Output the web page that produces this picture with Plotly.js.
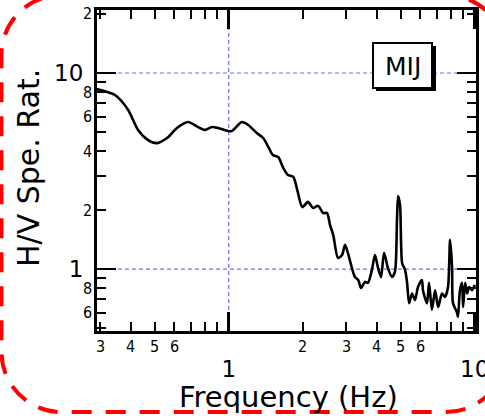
<!DOCTYPE html>
<html>
<head>
<meta charset="utf-8">
<script src="https://cdn.plot.ly/plotly-3.0.1.min.js"></script>
<style>
  html, body { margin: 0; padding: 0; background: #fff; }
  #chart { width: 485px; height: 416px; }
</style>
</head>
<body>
<div id="chart"></div>
<script>
// ---- data ----
const freq = [0.29, 0.345, 0.39, 0.428, 0.47, 0.511, 0.561, 0.616, 0.683, 0.75, 0.801, 0.855, 0.905, 0.994, 1.03, 1.13, 1.20, 1.30, 1.38, 1.45, 1.51, 1.59, 1.66, 1.74, 1.83, 1.90, 1.99, 2.10, 2.20, 2.31, 2.42, 2.51, 2.58, 2.66, 2.78, 2.89, 2.97, 3.05, 3.17, 3.26, 3.36, 3.45, 3.58, 3.68, 3.82, 3.93, 4.04, 4.16, 4.28, 4.44, 4.61, 4.74, 4.83, 4.88, 4.97, 5.07, 5.21, 5.31, 5.41, 5.56, 5.72, 5.88, 6.10, 6.16, 6.40, 6.52, 6.70, 6.90, 7.10, 7.36, 7.57, 7.79, 7.94, 8.09, 8.16, 8.47, 8.55, 8.71, 8.88, 8.97, 9.14, 9.31, 9.49, 9.75, 10.0];
const hvRatio = [8.29, 7.72, 6.48, 5.12, 4.55, 4.39, 4.66, 5.24, 5.62, 5.30, 5.12, 5.30, 5.24, 5.06, 5.06, 5.62, 5.43, 4.94, 4.66, 4.19, 3.82, 3.73, 3.31, 3.02, 2.95, 2.53, 2.07, 2.20, 2.05, 2.10, 1.93, 1.93, 1.68, 1.49, 1.14, 1.18, 1.33, 1.21, 1.01, 0.91, 0.88, 0.80, 0.86, 0.85, 0.99, 1.18, 1.02, 0.91, 1.21, 1.01, 0.91, 0.97, 1.78, 2.36, 2.12, 1.07, 0.99, 0.85, 0.67, 0.75, 0.695, 0.81, 0.88, 0.78, 0.67, 0.85, 0.62, 0.78, 0.64, 0.75, 0.72, 0.81, 1.41, 1.02, 0.67, 0.60, 0.57, 0.78, 0.85, 0.64, 0.85, 0.75, 0.81, 0.78, 0.83];

const stationName = "MIJ";
const xTitle = "Frequency (Hz)";
const yTitle = "H/V Spe. Rat.";

// major (decade) ticks with big labels
const xMajorVals = [1, 10];
const xMajorText = ["1", "10"];
const yMajorVals = [1, 10];
const yMajorText = ["1", "10"];
// minor ticks
const xMinorVals = [0.3, 0.4, 0.5, 0.6, 0.7, 0.8, 0.9, 2, 3, 4, 5, 6, 7, 8, 9];
const yMinorVals = [0.5, 0.6, 0.7, 0.8, 0.9, 2, 3, 4, 5, 6, 7, 8, 9, 20];
// small labels on minor ticks
const xSmallVals = [0.3, 0.4, 0.5, 0.6, 2, 3, 4, 5, 6];
const xSmallText = ["3", "4", "5", "6", "2", "3", "4", "5", "6"];
const ySmallVals = [0.6, 0.8, 2, 4, 6, 8, 20];
const ySmallText = ["6", "8", "2", "4", "6", "8", "2"];
// dotted guide lines
const xGuideVals = [1];
const yGuideVals = [1, 10];

const xRange = [0.2914, 10.12];
const yRange = [0.483, 20.96];

// ---- layout geometry ----
const W = 485, H = 416, ML = 97, MR = 9, MT = 10, MB = 85;
const PW = W - ML - MR, PH = H - MT - MB;
const px = x => (x - ML) / PW;
const py = y => (H - MB - y) / PH;

function roundRectPath(x0, y0, x1, y1, r) {
  const k = 0.5523 * r;
  const P = (x, y) => px(x).toFixed(5) + "," + py(y).toFixed(5);
  return "M" + P(x0 + r, y0) +
    " L" + P(x1 - r, y0) +
    " C" + P(x1 - r + k, y0) + " " + P(x1, y0 + r - k) + " " + P(x1, y0 + r) +
    " L" + P(x1, y1 - r) +
    " C" + P(x1, y1 - r + k) + " " + P(x1 - r + k, y1) + " " + P(x1 - r, y1) +
    " L" + P(x0 + r, y1) +
    " C" + P(x0 + r - k, y1) + " " + P(x0, y1 - r + k) + " " + P(x0, y1 - r) +
    " L" + P(x0, y0 + r) +
    " C" + P(x0, y0 + r - k) + " " + P(x0 + r - k, y0) + " " + P(x0 + r, y0) + " Z";
}

const labelFont = { family: "Liberation Sans Narrow, DejaVu Sans Condensed, sans-serif", size: 16, color: "#000" };
const bigFont = { family: "DejaVu Sans, sans-serif", size: 23, color: "#000" };
const titleFont = { family: "DejaVu Sans, sans-serif", size: 29, color: "#000" };
const gridLine = { color: "#6a6aff", width: 1.2, dash: "4px,3px" };

const annotations = [];
xSmallVals.forEach((v, i) => annotations.push({
  x: Math.log10(v), xref: "x", y: 0, yref: "paper", yanchor: "middle", yshift: -15,
  text: xSmallText[i], showarrow: false, font: labelFont
}));
ySmallVals.forEach((v, i) => annotations.push({
  x: 0, xref: "paper", xanchor: "right", xshift: -3, y: Math.log10(v), yref: "y", yanchor: "middle",
  text: ySmallText[i], showarrow: false, font: labelFont
}));
annotations.push({
  x: px(288), xref: "paper", y: py(397), yref: "paper", xanchor: "center", yanchor: "middle",
  text: xTitle, showarrow: false, font: titleFont
});
annotations.push({
  x: px(28), xref: "paper", y: py(168), yref: "paper", xanchor: "center", yanchor: "middle",
  textangle: -90, text: yTitle, showarrow: false, font: { family: titleFont.family, size: 30, color: "#000" }
});
annotations.push({
  x: px(402.5), xref: "paper", y: py(66), yref: "paper", xanchor: "center", yanchor: "middle",
  text: stationName, showarrow: false, font: { family: "DejaVu Sans, sans-serif", size: 25, color: "#000" }
});

const shapes = [];
xGuideVals.forEach(v => shapes.push({
  type: "line", xref: "x", yref: "paper", layer: "between",
  x0: v, x1: v, y0: 0, y1: 1, line: gridLine
}));
yGuideVals.forEach(v => shapes.push({
  type: "line", xref: "paper", yref: "y", layer: "between",
  x0: 0, x1: 1, y0: v, y1: v, line: gridLine
}));
shapes.push(
  // station box shadow
  { type: "rect", xref: "paper", yref: "paper", layer: "above",
    x0: px(376), x1: px(436), y0: py(91), y1: py(46),
    fillcolor: "#000", line: { width: 0 } },
  // station box
  { type: "rect", xref: "paper", yref: "paper", layer: "above",
    x0: px(373), x1: px(432), y0: py(88), y1: py(43),
    fillcolor: "#fff", line: { color: "#000", width: 2 } },
  // red dashed rounded frame
  { type: "path", xref: "paper", yref: "paper", layer: "above",
    path: roundRectPath(1.5, -5, 506, 412, 60),
    line: { color: "#ff0000", width: 4, dash: "20px,14px" } }
);

const axisCommon = {
  type: "log",
  ticks: "inside", ticklen: 19, tickwidth: 2.5, tickcolor: "#000",
  showline: true, linewidth: 3, linecolor: "#000", mirror: "ticks",
  showgrid: false, zeroline: false, tickmode: "array", tickfont: bigFont,
  ticklabeloverflow: "allow"
};

const layout = {
  width: W, height: H,
  margin: { l: ML, r: MR, t: MT, b: MB, pad: 0 },
  paper_bgcolor: "#fff", plot_bgcolor: "#fff",
  showlegend: false,
  xaxis: Object.assign({}, axisCommon, {
    range: xRange.map(Math.log10),
    tickvals: xMajorVals, ticktext: xMajorText,
    ticklabelstandoff: 15,
    minor: { tickmode: "array", tickvals: xMinorVals, ticks: "inside", ticklen: 9, tickwidth: 2, tickcolor: "#000", showgrid: false }
  }),
  yaxis: Object.assign({}, axisCommon, {
    range: yRange.map(Math.log10),
    tickvals: yMajorVals, ticktext: yMajorText,
    ticklabelstandoff: 6,
    minor: { tickmode: "array", tickvals: yMinorVals, ticks: "inside", ticklen: 9, tickwidth: 2, tickcolor: "#000", showgrid: false }
  }),
  annotations: annotations,
  shapes: shapes
};

const trace = {
  x: freq, y: hvRatio, type: "scatter", mode: "lines",
  line: { color: "#000", width: 2.6, shape: "spline", smoothing: 0.7 },
  hoverinfo: "skip"
};

Plotly.newPlot("chart", [trace], layout, { staticPlot: true, displayModeBar: false });
</script>
</body>
</html>
